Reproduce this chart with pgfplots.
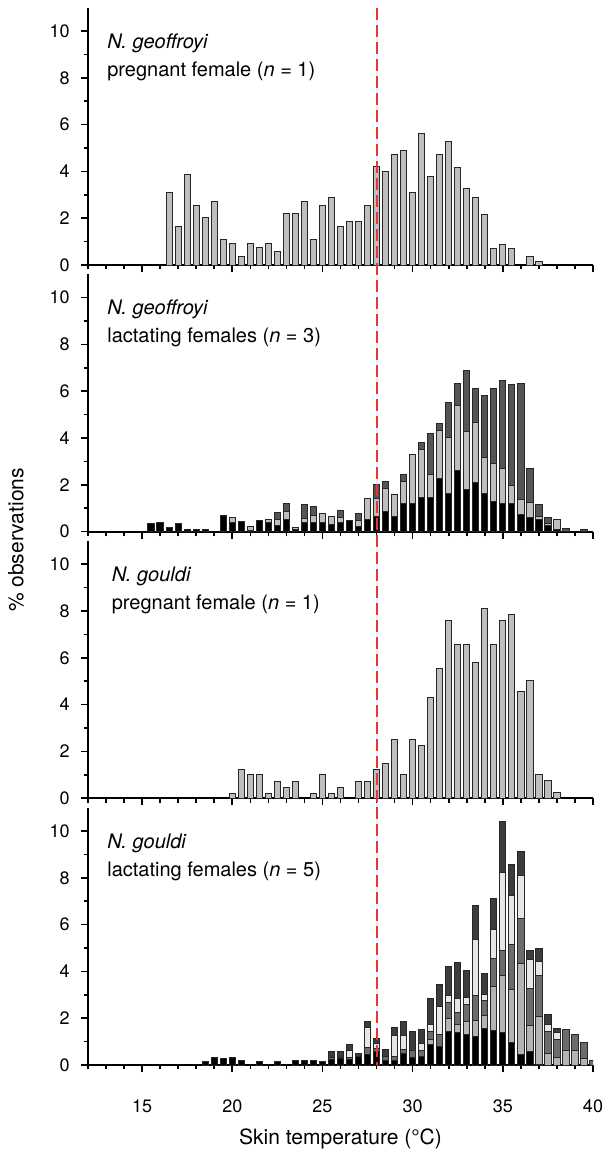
\documentclass[border=0pt]{standalone}
\usepackage{fontspec}
\setmainfont{TeX Gyre Heros}
\usepackage{pgfplots}
\pgfplotsset{compat=1.18}
\usepackage{pgfplotstable}

\definecolor{cl}{HTML}{BEBEBE}
\definecolor{pB}{HTML}{B4B4B4}
\definecolor{pC}{HTML}{6C6C6C}
\definecolor{pD}{HTML}{E6E6E6}
\definecolor{pE}{HTML}{3C3C3C}
\definecolor{gD}{HTML}{555555}
\definecolor{refred}{HTML}{E8352E}

\pgfplotstableread{
x A L D
15.5 0.33 0 0
16.0 0.37 0 0
16.5 0.16 0 0
17.0 0.33 0 0
17.5 0.09 0 0
18.0 0.11 0 0
18.5 0.09 0 0
19.5 0.70 0 0
20.0 0.40 0.21 0
20.5 0.43 0 0
21.0 0.05 0.18 0
21.5 0.47 0 0
22.0 0.37 0.14 0
22.5 0.26 0.25 0.30
23.0 0.51 0.35 0.32
23.5 0.11 0.08 0
24.0 0.37 0.20 0.58
24.5 0.37 0.32 0.37
25.0 0.40 0.36 0
25.5 0.29 0.37 0
26.0 0.40 0.20 0.31
26.5 0.47 0 0
27.0 0.23 0.24 0.32
27.5 0.53 0.87 0
28.0 0.64 0.79 0.60
28.5 0.84 1.02 0.30
29.0 0.66 0.93 0
29.5 1.21 0.93 0.32
30.0 1.19 2.10 0
30.5 1.47 2.02 0.30
31.0 1.47 0.99 1.75
31.5 2.27 2.03 0.31
32.0 1.61 2.42 1.47
32.5 2.59 2.82 0.92
33.0 1.79 2.47 2.61
33.5 2.11 2.55 1.45
34.0 1.64 1.53 2.64
34.5 1.29 1.60 3.21
35.0 1.19 1.52 3.76
35.5 1.21 0.75 4.34
36.0 0.73 0.64 4.94
36.5 0.61 0.65 1.45
37.0 0.50 0.14 0.53
37.5 0.26 0.07 0.27
38.0 0.07 0.44 0
38.5 0 0 0.13
39.5 0 0 0.07
}\geolact

\pgfplotstableread{
x A B C D E
18.5 0.14 0 0 0 0
19.0 0.31 0 0 0 0
19.5 0.27 0 0 0 0
20.0 0.31 0 0 0 0
20.5 0.19 0 0 0 0
21.5 0.14 0 0 0 0
22.5 0.14 0 0 0 0
23.5 0.19 0 0 0 0
24.0 0.19 0 0 0 0
24.5 0.19 0 0 0 0
25.0 0.13 0 0 0 0
25.5 0.24 0 0.10 0 0.24
26.0 0.27 0 0.07 0 0.24
26.5 0.23 0 0.11 0.29 0.25
27.0 0.36 0 0 0 0.14
27.5 0.46 0 0.28 0.86 0.28
28.0 0.57 0 0.14 0.22 0.20
28.5 0.21 0 0.15 0 0.32
29.0 0.20 0 0.16 0.88 0.37
29.5 0.48 0 0.18 0.58 0.64
30.0 0.34 0 0.27 0 0.84
30.5 0.38 0 0.23 0.32 0.59
31.0 0.88 0.19 0.35 0.29 1.14
31.5 0.81 0 0.50 1.18 0.94
32.0 1.42 0.55 0.69 0.29 1.28
32.5 1.38 0.36 0.50 0.61 1.55
33.0 1.31 0.54 0.74 0.29 1.18
33.5 1.21 0.71 1.03 2.42 1.45
34.0 1.57 0.54 0.63 0.27 0.92
34.5 1.47 1.88 1.21 1.21 1.35
35.0 1.37 2.45 1.08 3.33 2.17
35.5 0.98 2.24 1.94 2.09 1.33
36.0 0.43 3.92 1.90 1.83 1.04
36.5 0.57 1.11 1.60 1.21 0.42
37.0 0.04 2.05 1.73 0.60 0.57
37.5 0 0.50 0.95 0.29 0.40
38.0 0 0.31 0.79 0.28 0.16
38.5 0 0.64 0.88 0 0
39.0 0 0.64 0.68 0 0
39.5 0 0.28 0.69 0 0
40.0 0 0 0.21 0 0
}\gouldlact

\pgfplotsset{
  panel/.style={
    scale only axis, width=252.5pt, height=128.7pt,
    xmin=12, xmax=40, ymin=0, ymax=11,
    axis x line*=bottom, axis y line*=left,
    axis line style={line width=0.9pt},
    xtick={15,20,25,30,35,40}, minor xtick={12,...,40},
    ytick={0,2,4,6,8,10}, minor ytick={1,3,5,7,9},
    tick align=outside,
    major tick length=3.6pt, minor tick length=2.2pt,
    every tick/.style={black, line width=0.8pt},
    xticklabels={},
    ticklabel style={font=\fontsize{9}{10}\selectfont},
    yticklabel style={xshift=-2pt},
    /pgf/number format/assume math mode=true,
    bar width=0.35,
  },
  sb/.style={draw=black!85, line width=0.5pt, fill=#1},
}

\begin{document}
\begin{tikzpicture}
\tikzset{ptext/.style={anchor=north west, align=left, inner sep=0pt, font=\fontsize{10}{14}\selectfont}}

% Panel 1
\begin{axis}[panel, ybar, at={(0,0)}, anchor=south west]
\addplot[sb=cl] coordinates {
(16.5,3.10) (17.0,1.65) (17.5,3.85) (18.0,2.55) (18.5,2.02) (19.0,2.73)
(19.5,1.10) (20.0,0.91) (20.5,0.37) (21.0,0.91) (21.5,0.74) (22.0,0.91)
(22.5,0.56) (23.0,2.20) (23.5,2.20) (24.0,2.73) (24.5,1.10) (25.0,2.55)
(25.5,2.90) (26.0,1.65) (26.5,1.84) (27.0,1.84) (27.5,2.55) (28.0,4.20)
(28.5,3.99) (29.0,4.73) (29.5,4.90) (30.0,3.08) (30.5,5.63) (31.0,3.80)
(31.5,4.73) (32.0,5.27) (32.5,4.17) (33.0,3.26) (33.5,2.89) (34.0,2.17)
(34.5,0.71) (35.0,0.88) (35.5,0.71) (36.5,0.36) (37.0,0.16)};
\node[ptext] at (axis cs:13.05,9.9) {\textit{N. geoffroyi}\\pregnant female (\textit{n} = 1)};
\coordinate (rtop) at (axis cs:28,11);
\end{axis}

% Panel 2
\begin{axis}[panel, ybar stacked, at={(0,-133.3pt)}, anchor=south west]
\addplot[sb=black] table[x=x,y=A]{\geolact};
\addplot[sb=cl] table[x=x,y=L]{\geolact};
\addplot[sb=gD] table[x=x,y=D]{\geolact};
\node[ptext] at (axis cs:13.05,9.9) {\textit{N. geoffroyi}\\lactating females (\textit{n} = 3)};
\end{axis}

% Panel 3
\begin{axis}[panel, ybar, at={(0,-266.6pt)}, anchor=south west]
\addplot[sb=cl] coordinates {
(20.0,0.21) (20.5,1.24) (21.0,1.00) (21.5,1.00) (22.0,0.21) (22.5,0.73)
(23.0,0.47) (23.5,0.73) (24.5,0.21) (25.0,1.00) (25.5,0.21) (26.0,0.47)
(27.0,0.73) (27.5,0.73) (28.0,1.24) (28.5,1.50) (29.0,2.52) (29.5,1.00)
(30.0,2.52) (30.5,2.26) (31.0,4.30) (31.5,5.56) (32.0,7.58) (32.5,6.58)
(33.0,6.58) (33.5,5.81) (34.0,8.09) (34.5,6.58) (35.0,7.58) (35.5,7.83)
(36.0,4.56) (36.5,5.04) (37.0,1.00) (37.5,0.74) (38.0,0.23)};
\node[ptext] at (axis cs:13.3,9.9) {\textit{N. gouldi}\\pregnant female (\textit{n} = 1)};
\end{axis}

% Panel 4
\begin{axis}[panel, ybar stacked, at={(0,-400pt)}, anchor=south west,
  xticklabels={15,20,25,30,35,40},
  xticklabel style={yshift=-10pt},
  xlabel={Skin temperature (°C)},
  xlabel style={font=\fontsize{10.5}{12}\selectfont, at={(axis description cs:0.5,0)}, anchor=center, yshift=-37pt}]
\addplot[sb=black] table[x=x,y=A]{\gouldlact};
\addplot[sb=pB] table[x=x,y=B]{\gouldlact};
\addplot[sb=pC] table[x=x,y=C]{\gouldlact};
\addplot[sb=pD] table[x=x,y=D]{\gouldlact};
\addplot[sb=pE] table[x=x,y=E]{\gouldlact};
\node[ptext] at (axis cs:13.05,9.9) {\textit{N. gouldi}\\lactating females (\textit{n} = 5)};
\coordinate (rbot) at (axis cs:28,0);
\end{axis}

\draw[refred, line width=1pt, dash pattern=on 6pt off 2.5pt] (rtop) -- (rbot);

\node[rotate=90, font=\fontsize{10.5}{12}\selectfont] at (-36pt,-137.5pt) {\% observations};

\pgfresetboundingbox
\path (-44pt,-443pt) rectangle (260pt,132.5pt);
\end{tikzpicture}
\end{document}
